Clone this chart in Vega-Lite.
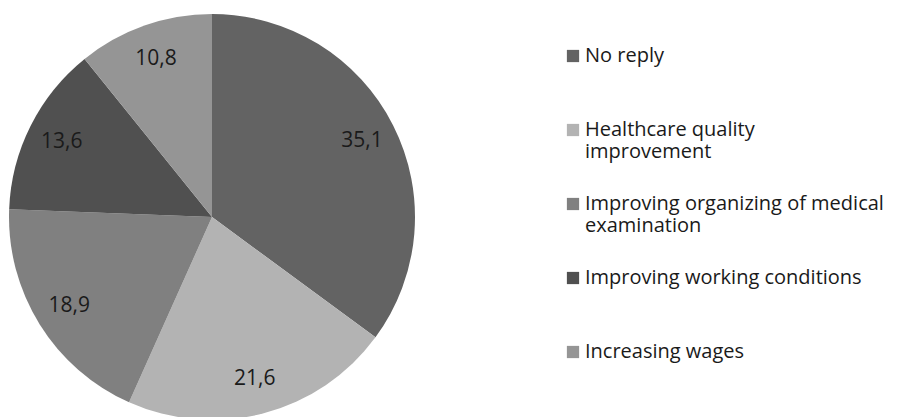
{
  "$schema": "https://vega.github.io/schema/vega-lite/v6.json",
  "width": 424,
  "height": 434,
  "autosize": "none",
  "padding": {"left": 0, "top": 0, "right": 475, "bottom": 0},
  "background": "white",
  "config": {
    "view": {"stroke": null},
    "font": "Open Sans",
    "locale": {"number": {"decimal": ",", "thousands": ".", "grouping": [3], "currency": ["", ""]}}
  },
  "data": {
    "values": [
      {"category": "No reply", "value": 35.1, "order": 1},
      {"category": "Healthcare quality improvement", "value": 21.6, "order": 2},
      {"category": "Improving organizing of medical examination", "value": 18.9, "order": 3},
      {"category": "Improving working conditions", "value": 13.6, "order": 4},
      {"category": "Increasing wages", "value": 10.8, "order": 5}
    ]
  },
  "encoding": {
    "theta": {"field": "value", "type": "quantitative", "stack": true},
    "order": {"field": "order", "type": "quantitative"}
  },
  "layer": [
    {
      "mark": {"type": "arc", "outerRadius": 203, "stroke": "white", "strokeWidth": 0},
      "encoding": {
        "color": {
          "field": "category",
          "type": "nominal",
          "sort": ["No reply", "Healthcare quality improvement", "Improving organizing of medical examination", "Improving working conditions", "Increasing wages"],
          "scale": {
            "domain": ["No reply", "Healthcare quality improvement", "Improving organizing of medical examination", "Improving working conditions", "Increasing wages"],
            "range": ["#636363", "#b3b3b3", "#808080", "#505050", "#959595"]
          },
          "legend": {
            "orient": "none",
            "legendX": 563,
            "legendY": 46,
            "padding": 0,
            "title": null,
            "symbolType": "square",
            "symbolSize": 150,
            "symbolStrokeWidth": 0,
            "symbolOpacity": 1,
            "labelFont": "Open Sans",
            "labelFontSize": 20,
            "labelColor": "#1a1a1a",
            "labelLimit": 400,
            "labelOffset": 2,
            "labelBaseline": "middle",
            "labelLineHeight": 23,
            "rowPadding": 32,
            "labelExpr": "datum.label == 'Healthcare quality improvement' ? ['Healthcare quality', 'improvement'] : datum.label == 'Improving organizing of medical examination' ? ['Improving organizing of medical', 'examination'] : [datum.label, '']"
          }
        }
      }
    },
    {
      "mark": {"type": "text", "radius": 168, "font": "Open Sans", "fontSize": 21, "color": "#1a1a1a"},
      "encoding": {
        "text": {"field": "value", "type": "quantitative", "format": ".1f"}
      }
    }
  ]
}
